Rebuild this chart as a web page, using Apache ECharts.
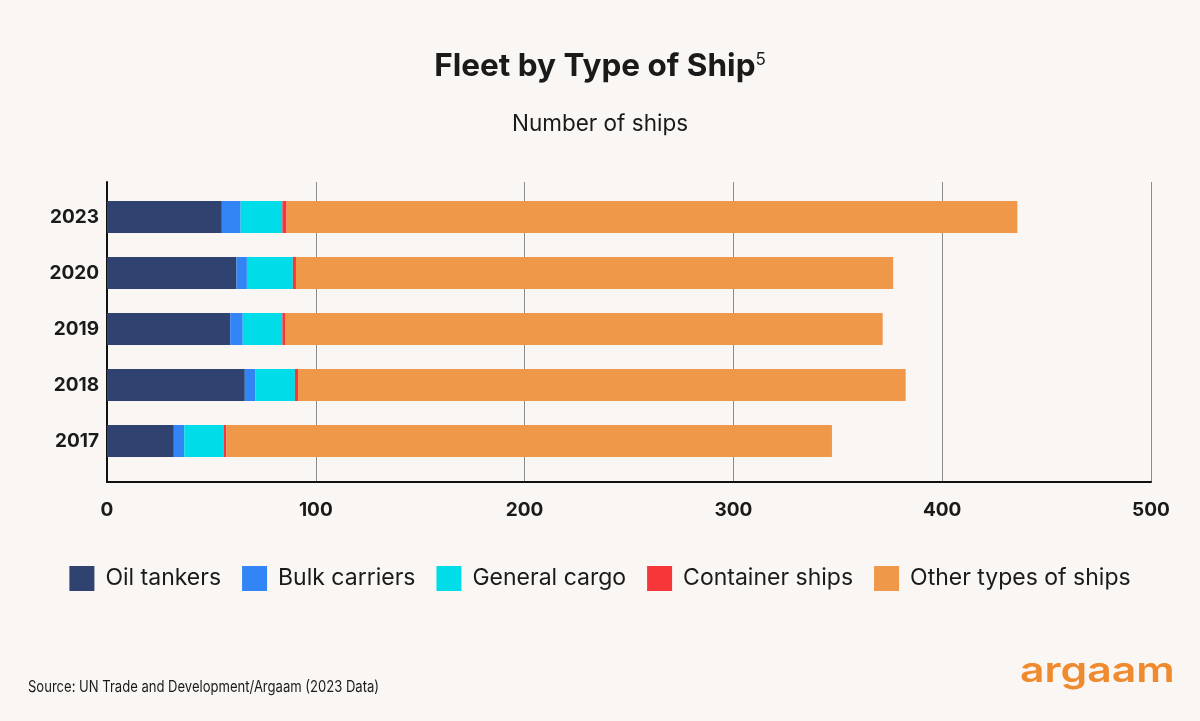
<!DOCTYPE html>
<html>
<head>
<meta charset="utf-8">
<script src="https://cdn.jsdelivr.net/npm/echarts@6/dist/echarts.min.js"></script>
<style>
html,body{margin:0;padding:0;background:#f9f6f3;}
#chart{width:1200px;height:721px;}
</style>
</head>
<body>
<div id="chart"></div>
<script>
const years = ['2023', '2020', '2019', '2018', '2017'];
const oilTankers = [55, 62, 59, 66, 32];
const bulkCarriers = [9, 5, 6, 5, 5];
const generalCargo = [20, 22, 19, 19, 19];
const containerShips = [2, 1.5, 1.5, 1.5, 1.2];
const otherShips = [350, 286, 286, 291, 290];
const xTicks = [0, 100, 200, 300, 400, 500];

const seriesNames = ['Oil tankers', 'Bulk carriers', 'General cargo', 'Container ships', 'Other types of ships'];
const seriesData = [oilTankers, bulkCarriers, generalCargo, containerShips, otherShips];
const colors = ['#2f4270', '#3385f5', '#00dce8', '#f7363a', '#f0984a'];

const chart = echarts.init(document.getElementById('chart'));
const font = 'Inter, "Open Sans", sans-serif';
chart.setOption({
  backgroundColor: '#f9f6f3',
  textStyle: { fontFamily: font },
  title: [
    {
      text: 'Fleet by Type of Ship{sup|5}',
      left: 'center', top: 46,
      textStyle: {
        fontFamily: font, fontSize: 31.5, fontWeight: 'bold', color: '#1a1a1a',
        rich: { sup: { fontFamily: font, fontSize: 17, fontWeight: 'normal', color: '#1a1a1a', verticalAlign: 'top', padding: [0, 0, 14, 0] } }
      }
    },
    {
      text: 'Number of ships',
      left: 'center', top: 108,
      textStyle: { fontFamily: font, fontSize: 22.5, fontWeight: 'normal', color: '#1a1a1a' }
    }
  ],
  graphic: [
    {
      type: 'text', x: 28, y: 687, scaleX: 0.815,
      style: { text: 'Source: UN Trade and Development/Argaam (2023 Data)', fontFamily: font, fontSize: 16, fill: '#1a1a1a', verticalAlign: 'middle', align: 'left' }
    },
    {
      type: 'text', x: 1020, y: 671, scaleX: 1.22,
      style: { text: 'argaam', fontFamily: font, fontSize: 35, fontWeight: 600, fill: '#ef8a2e', verticalAlign: 'middle', align: 'left' }
    }
  ],
  legend: {
    data: seriesNames,
    left: 'center', top: 566,
    padding: 0,
    itemWidth: 25, itemHeight: 25, itemGap: 21,
    icon: 'rect',
    textStyle: { fontFamily: font, fontSize: 23, color: '#1a1a1a', padding: [0, 0, 0, 6] }
  },
  grid: [
    { left: 107, right: 49, top: 182, height: 300 },
    { left: 107, right: 49, top: 189, height: 280 }
  ],
  xAxis: [
    {
      gridIndex: 0, type: 'value', min: 0, max: 500, interval: 100,
      axisLine: { show: true, lineStyle: { color: '#111', width: 2 } },
      axisTick: { show: false },
      splitLine: { show: true, lineStyle: { color: '#8c8c8c', width: 1 } },
      axisLabel: { fontFamily: font, fontSize: 19, fontWeight: 'bold', color: '#1a1a1a', margin: 19,
        customValues: xTicks }
    },
    {
      gridIndex: 1, type: 'value', min: 0, max: 500, interval: 100,
      show: false
    }
  ],
  yAxis: [
    {
      gridIndex: 0, type: 'value', min: 0, max: 1,
      axisLine: { show: true, onZero: false, lineStyle: { color: '#111', width: 2 } },
      axisTick: { show: false }, axisLabel: { show: false }, splitLine: { show: false }
    },
    {
      gridIndex: 1, type: 'category', data: years, inverse: true,
      axisLine: { show: false }, axisTick: { show: false },
      axisLabel: { fontFamily: font, fontSize: 19, fontWeight: 'bold', color: '#1a1a1a', margin: 8 }
    }
  ],
  series: seriesNames.map((name, i) => ({
    name: name,
    type: 'bar',
    stack: 'total',
    xAxisIndex: 1, yAxisIndex: 1,
    barWidth: 32,
    itemStyle: { color: colors[i] },
    emphasis: { disabled: true },
    data: seriesData[i]
  }))
});
</script>
</body>
</html>
